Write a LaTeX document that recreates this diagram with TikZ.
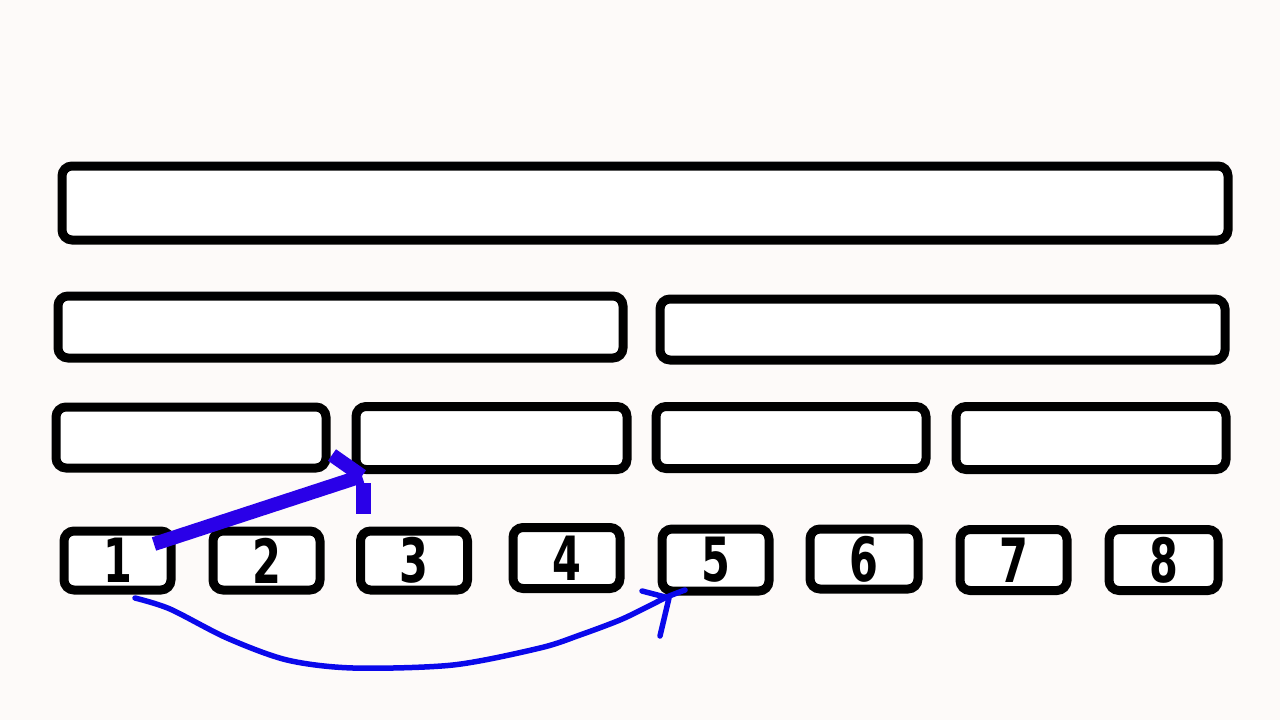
\documentclass[tikz,border=0pt]{standalone}
\usepackage{fontspec}
\newfontfamily\digitfont{DejaVu Sans}
\begin{document}
\begin{tikzpicture}[x=1pt,y=-1pt,
  bigbox/.style={draw=black,fill=white,line width=9pt,rounded corners=10pt,inner sep=0pt,outer sep=0pt},
  numbox/.style={bigbox,minimum width=107pt,minimum height=59pt,
    font=\digitfont\bfseries\fontsize{61}{61}\selectfont},
  thickblue/.style={draw={rgb,255:red,42;green,0;blue,232},line width=14pt},
  thinblue/.style={draw={rgb,255:red,10;green,8;blue,235},line width=5.5pt,line cap=round,line join=round}]
\definecolor{bg}{RGB}{253,250,249}
\fill[bg] (0,0) rectangle (1280,720);
\useasboundingbox (0,0) rectangle (1280,720);
% top box
\node[bigbox,minimum width=1166pt,minimum height=74pt] (top) at (645,203) {};
% second row
\node[bigbox,minimum width=565pt,minimum height=62pt] (ha) at (340.5,327) {};
\node[bigbox,minimum width=565pt,minimum height=61pt] (hb) at (942.5,329.5) {};
% third row
\node[bigbox,minimum width=270pt,minimum height=61pt] (qa) at (191,437.5) {};
\node[bigbox,minimum width=271pt,minimum height=63pt] (qb) at (491.5,438) {};
\node[bigbox,minimum width=270pt,minimum height=62pt] (qc) at (791,437.5) {};
\node[bigbox,minimum width=270pt,minimum height=63pt] (qd) at (1091,438) {};
% number row
\node[numbox] (b1) at (117.5,560.5) {\scalebox{0.68}[1]{1}};
\node[numbox] (b2) at (266.5,560.5) {\scalebox{0.68}[1]{2}};
\node[numbox] (b3) at (414,560.5) {\scalebox{0.68}[1]{3}};
\node[numbox,minimum height=61pt] (b4) at (566.5,558) {\scalebox{0.68}[1]{4}};
\node[numbox,minimum height=62pt] (b5) at (715.5,560) {\scalebox{0.68}[1]{5}};
\node[numbox,minimum width=108pt,minimum height=60pt] (b6) at (864,559) {\scalebox{0.68}[1]{6}};
\node[numbox,minimum height=61pt] (b7) at (1013.5,560) {\scalebox{0.68}[1]{7}};
\node[numbox,minimum width=109pt,minimum height=61pt] (b8) at (1163.5,560) {\scalebox{0.68}[1]{8}};
% thick blue arrow from 1 towards the second quarter box
\coordinate (s1) at (154,544);
\coordinate (e1) at (362,476);
\coordinate (w1) at (332,455);
\coordinate (v1) at (363.5,483);
\coordinate (v2) at (363.5,514);
\draw[thickblue] (s1) -- (e1);
\draw[thickblue] (w1) -- (e1);
\draw[thickblue,line width=15pt] (v1) -- (v2);
% thin blue curve from 1 to 5
\coordinate (s2) at (135,598);
\coordinate (e2) at (685,590);
\coordinate (h1) at (642,591);
\coordinate (h2) at (669,598);
\coordinate (h3) at (660,636);
\draw[thinblue] plot[smooth,tension=0.5] coordinates {(s2) (170,609) (227,638) (287,660) (353,668) (453,665) (540,648) (580,635) (620,620) (647,607) (667,597) (e2)};
\draw[thinblue] (h1) -- (h2) -- (h3);
\end{tikzpicture}
\end{document}
